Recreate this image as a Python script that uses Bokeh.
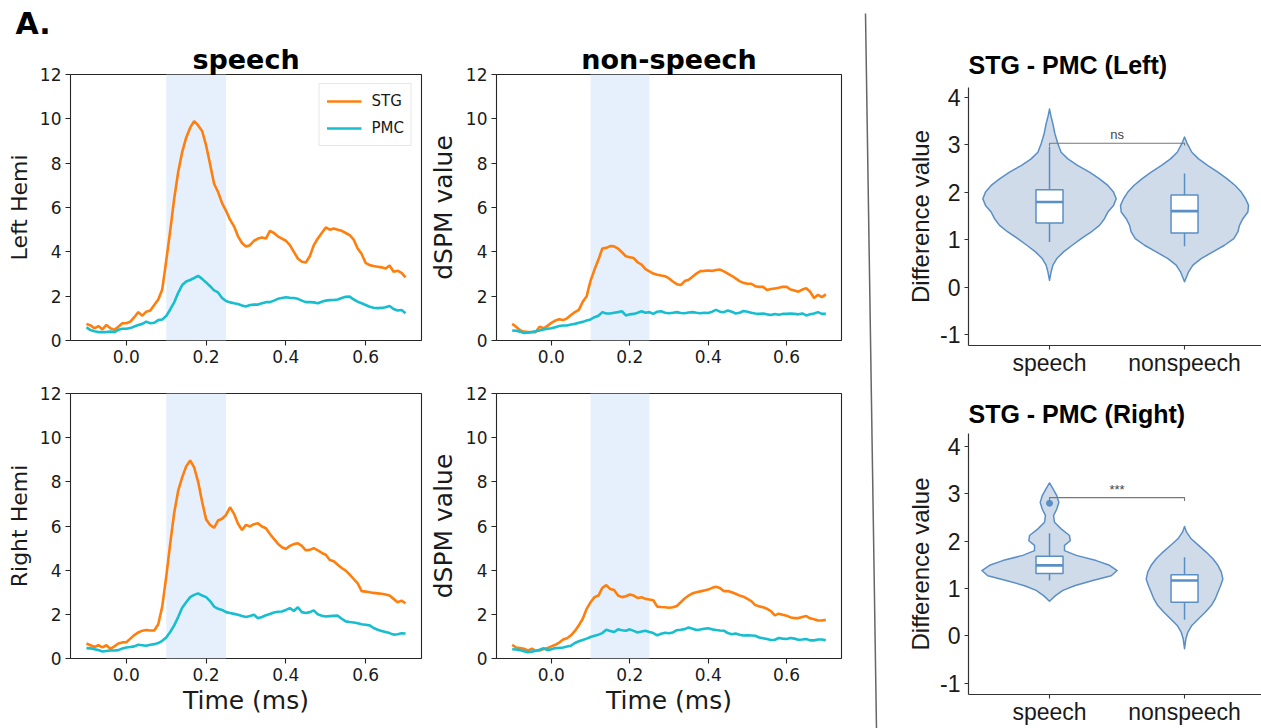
import numpy as np
from bokeh.plotting import figure
from bokeh.models import (BoxAnnotation, FixedTicker, PrintfTickFormatter, Range1d)
from bokeh.layouts import row, column
from bokeh.embed import file_html
from bokeh.resources import INLINE

# ---------------- data ----------------
time_s = np.round(np.arange(-0.10, 0.7001, 0.01), 2)   # 81 samples, -0.10 .. 0.70

speech_left_stg = [
    0.75, 0.68, 0.55, 0.65, 0.50, 0.70, 0.55, 0.48, 0.62, 0.78,
    0.78, 0.85, 1.05, 1.28, 1.12, 1.30, 1.35, 1.60, 1.85, 2.30,
    3.60, 4.95, 6.40, 7.60, 8.50, 9.15, 9.60, 9.90, 9.70, 9.45,
    8.80, 7.95, 7.07, 6.70, 6.20, 5.85, 5.45, 5.15, 4.70, 4.40,
    4.24, 4.30, 4.50, 4.60, 4.65, 4.60, 4.95, 4.85, 4.70, 4.60,
    4.50, 4.30, 4.00, 3.70, 3.55, 3.52, 3.80, 4.30, 4.60, 4.85,
    5.10, 5.00, 5.05, 5.00, 4.95, 4.85, 4.75, 4.55, 4.15, 3.90,
    3.50, 3.40, 3.36, 3.33, 3.30, 3.25, 3.38, 3.10, 3.15, 3.05,
    2.85]
speech_left_pmc = [
    0.60, 0.47, 0.42, 0.38, 0.38, 0.38, 0.40, 0.38, 0.48, 0.53,
    0.53, 0.56, 0.63, 0.70, 0.75, 0.85, 0.78, 0.80, 0.92, 0.95,
    1.10, 1.40, 1.72, 2.15, 2.50, 2.66, 2.73, 2.82, 2.92, 2.78,
    2.62, 2.45, 2.26, 2.17, 1.92, 1.78, 1.72, 1.68, 1.65, 1.58,
    1.53, 1.60, 1.62, 1.62, 1.68, 1.73, 1.73, 1.80, 1.88, 1.92,
    1.95, 1.93, 1.92, 1.88, 1.80, 1.73, 1.73, 1.72, 1.68, 1.75,
    1.80, 1.82, 1.83, 1.85, 1.92, 1.97, 1.98, 1.85, 1.75, 1.68,
    1.60, 1.52, 1.48, 1.46, 1.47, 1.50, 1.56, 1.42, 1.35, 1.38,
    1.23]
nonspeech_left_stg = [
    0.75, 0.62, 0.46, 0.40, 0.38, 0.38, 0.38, 0.62, 0.55, 0.66,
    0.80, 0.90, 0.96, 0.92, 1.00, 1.15, 1.28, 1.38, 1.75, 2.00,
    2.70, 3.20, 3.65, 4.15, 4.18, 4.26, 4.25, 4.15, 3.98, 3.80,
    3.76, 3.72, 3.53, 3.42, 3.22, 3.12, 3.02, 2.97, 2.93, 2.90,
    2.80, 2.66, 2.54, 2.50, 2.68, 2.74, 2.88, 3.02, 3.13, 3.14,
    3.16, 3.14, 3.18, 3.20, 3.12, 3.02, 2.92, 2.80, 2.68, 2.60,
    2.56, 2.56, 2.45, 2.42, 2.42, 2.28, 2.32, 2.35, 2.38, 2.42,
    2.42, 2.30, 2.26, 2.20, 2.30, 2.36, 2.20, 1.92, 2.06, 1.96,
    2.08]
nonspeech_left_pmc = [
    0.45, 0.44, 0.40, 0.34, 0.35, 0.38, 0.42, 0.45, 0.50, 0.53,
    0.55, 0.60, 0.65, 0.68, 0.68, 0.72, 0.75, 0.80, 0.84, 0.90,
    0.95, 1.05, 1.12, 1.28, 1.22, 1.22, 1.25, 1.28, 1.32, 1.13,
    1.18, 1.20, 1.25, 1.32, 1.25, 1.28, 1.20, 1.30, 1.32, 1.25,
    1.23, 1.25, 1.28, 1.24, 1.23, 1.26, 1.28, 1.25, 1.23, 1.25,
    1.24, 1.30, 1.38, 1.30, 1.28, 1.35, 1.30, 1.22, 1.25, 1.33,
    1.30, 1.25, 1.22, 1.20, 1.22, 1.18, 1.15, 1.20, 1.16, 1.20,
    1.20, 1.22, 1.20, 1.18, 1.22, 1.13, 1.18, 1.22, 1.28, 1.20,
    1.20]
speech_right_stg = [
    0.68, 0.60, 0.52, 0.60, 0.50, 0.60, 0.44, 0.55, 0.68, 0.73,
    0.74, 0.90, 1.06, 1.18, 1.26, 1.29, 1.27, 1.27, 1.55, 2.35,
    3.70, 5.20, 6.60, 7.60, 8.20, 8.70, 8.97, 8.65, 8.00, 7.10,
    6.30, 6.05, 5.92, 6.25, 6.33, 6.50, 6.85, 6.55, 6.10, 5.82,
    6.05, 5.98, 6.08, 6.12, 5.98, 5.90, 5.64, 5.42, 5.20, 5.04,
    4.96, 5.10, 5.18, 5.22, 5.10, 4.90, 4.92, 5.00, 4.90, 4.78,
    4.70, 4.46, 4.40, 4.25, 4.10, 3.98, 3.80, 3.60, 3.40, 3.05,
    3.03, 3.00, 2.97, 2.95, 2.93, 2.90, 2.85, 2.70, 2.55, 2.62,
    2.50]
speech_right_pmc = [
    0.47, 0.46, 0.42, 0.38, 0.32, 0.34, 0.36, 0.36, 0.38, 0.45,
    0.50, 0.52, 0.55, 0.62, 0.60, 0.58, 0.62, 0.65, 0.70, 0.80,
    0.95, 1.20, 1.50, 1.88, 2.30, 2.55, 2.78, 2.88, 2.95, 2.85,
    2.78, 2.60, 2.35, 2.25, 2.20, 2.10, 2.06, 2.02, 1.98, 1.92,
    1.88, 1.92, 1.98, 1.82, 1.88, 1.96, 2.02, 2.08, 2.12, 2.13,
    2.20, 2.28, 2.15, 2.32, 2.10, 2.06, 2.10, 2.18, 2.00, 1.94,
    1.90, 1.92, 1.93, 1.94, 1.80, 1.68, 1.65, 1.63, 1.60, 1.55,
    1.53, 1.50, 1.38, 1.30, 1.25, 1.20, 1.15, 1.08, 1.10, 1.14,
    1.13]
nonspeech_right_stg = [
    0.62, 0.50, 0.47, 0.44, 0.36, 0.45, 0.35, 0.36, 0.43, 0.47,
    0.55, 0.62, 0.72, 0.86, 0.92, 1.05, 1.25, 1.50, 1.80, 2.25,
    2.55, 2.78, 2.85, 3.20, 3.32, 3.15, 3.10, 2.85, 2.78, 2.82,
    2.90, 2.85, 2.74, 2.77, 2.70, 2.67, 2.64, 2.35, 2.33, 2.32,
    2.30, 2.32, 2.38, 2.55, 2.72, 2.85, 2.95, 3.00, 3.04, 3.08,
    3.12, 3.20, 3.25, 3.19, 3.05, 3.06, 3.00, 2.93, 2.85, 2.80,
    2.70, 2.60, 2.42, 2.36, 2.32, 2.25, 2.15, 1.95, 2.03, 1.98,
    1.94, 1.86, 1.83, 1.83, 1.88, 1.92, 1.82, 1.78, 1.72, 1.72,
    1.75]
nonspeech_right_pmc = [
    0.42, 0.41, 0.38, 0.33, 0.28, 0.31, 0.35, 0.40, 0.46, 0.38,
    0.42, 0.47, 0.48, 0.50, 0.54, 0.58, 0.70, 0.78, 0.84, 0.90,
    0.97, 1.03, 1.08, 1.15, 1.30, 1.25, 1.20, 1.32, 1.28, 1.26,
    1.32, 1.25, 1.18, 1.22, 1.26, 1.20, 1.15, 1.05, 1.12, 1.17,
    1.14, 1.18, 1.28, 1.30, 1.33, 1.40, 1.35, 1.29, 1.31, 1.35,
    1.37, 1.32, 1.29, 1.27, 1.26, 1.15, 1.10, 1.13, 1.08, 1.04,
    1.05, 1.04, 1.03, 0.95, 0.92, 0.88, 0.84, 0.85, 0.93, 0.90,
    0.88, 0.93, 0.90, 0.85, 0.86, 0.88, 0.82, 0.82, 0.86, 0.86,
    0.83]

window_start, window_end = 0.10, 0.25
x_ticks = [0.0, 0.2, 0.4, 0.6]
y_ticks = [0, 2, 4, 6, 8, 10, 12]

# violin panels
groups = ["speech", "nonspeech"]
group_pos = [1, 2]
diff_ticks = [-1, 0, 1, 2, 3, 4]

# violin outlines: value levels and half-widths (in category units)
vl_speech_y = [0.14, 0.32, 0.46, 0.60, 0.74, 0.88, 1.02, 1.16, 1.30, 1.44, 1.58, 1.72, 1.86,
               2.00, 2.14, 2.28, 2.42, 2.56, 2.70, 2.84, 3.02, 3.23, 3.44, 3.61, 3.75]
vl_speech_w = [0, .012, .025, .054, .104, .168, .235, .309, .370, .407, .432, .474, .494,
               .474, .432, .370, .296, .210, .136, .086, .062, .040, .025, .010, 0]
vl_non_y = [0.11, 0.32, 0.46, 0.60, 0.74, 0.88, 1.02, 1.16, 1.30, 1.44, 1.58, 1.72, 1.86,
            2.00, 2.14, 2.28, 2.42, 2.56, 2.70, 2.84, 3.02, 3.16]
vl_non_w = [0, .030, .062, .123, .210, .296, .365, .395, .407, .432, .469, .474, .452,
            .420, .375, .316, .247, .173, .104, .054, .020, 0]
vr_speech_y = [0.73, 0.85, 0.96, 1.06, 1.17, 1.27, 1.38, 1.49, 1.59, 1.70, 1.80, 1.91, 2.01,
               2.12, 2.26, 2.40, 2.54, 2.68, 2.82, 2.96, 3.11, 3.23]
vr_speech_w = [0, .044, .099, .185, .321, .457, .501, .444, .346, .198, .111, .111, .153,
               .148, .086, .037, .030, .054, .069, .054, .025, 0]
vr_non_y = [-0.27, -0.06, 0.08, 0.22, 0.36, 0.50, 0.64, 0.78, 0.92, 1.06, 1.20, 1.35, 1.49,
            1.63, 1.77, 1.91, 2.05, 2.19, 2.31]
vr_non_w = [0, .010, .025, .054, .104, .153, .198, .227, .247, .267, .284, .272, .247,
            .210, .160, .104, .049, .015, 0]

# box statistics [speech, nonspeech]
left_q1 = [1.35, 1.14]
left_med = [1.79, 1.60]
left_q3 = [2.05, 1.94]
left_wlo = [0.95, 0.86]
left_whi = [2.95, 2.39]
right_q1 = [1.32, 0.71]
right_med = [1.49, 1.17]
right_q3 = [1.68, 1.29]
right_wlo = [1.17, 0.34]
right_whi = [2.17, 1.66]
right_outlier_y = [2.80]
left_sig = ("ns", 3.03, [2.96, 2.98])
right_sig = ("***", 2.92, [2.86, 2.85])

# ---------------- styling ----------------
ORANGE = "#ff7f0e"
CYAN = "#17becf"
SHADE = "#e6f0fc"
MPL_FONT = "DejaVu Sans"
GG_FONT = "Liberation Sans"
V_FILL = "#d0dbe9"
V_LINE = "#5a8fc6"


def base_fig(width, height, xr, yr, mbl, mbr, mbt, mbb, **kw):
    p = figure(width=width, height=height, output_backend="svg", toolbar_location=None,
               x_range=xr, y_range=yr, min_border_left=mbl, min_border_right=mbr,
               min_border_top=mbt, min_border_bottom=mbb, **kw)
    p.grid.visible = False
    p.background_fill_color = "white"
    p.border_fill_color = "white"
    return p


def line_panel(width, height, mbl, mbr, mbt, mbb, title, ylabel, ylabel_size,
               stg, pmc, xlabel=None, legend=False):
    p = base_fig(width, height, Range1d(-0.14, 0.74), Range1d(0, 12), mbl, mbr, mbt, mbb)
    p.outline_line_color = "#262626"
    p.outline_line_width = 1.1
    p.add_layout(BoxAnnotation(left=window_start, right=window_end, fill_color=SHADE,
                               fill_alpha=1.0, line_color=None, level="underlay"))
    if legend:
        p.line(time_s, stg, line_color=ORANGE, line_width=2.6, legend_label="STG")
        p.line(time_s, pmc, line_color=CYAN, line_width=2.6, legend_label="PMC")
    else:
        p.line(time_s, stg, line_color=ORANGE, line_width=2.6)
        p.line(time_s, pmc, line_color=CYAN, line_width=2.6)
    if title:
        p.title.text = title
        p.title.align = "center"
        p.title.text_font = MPL_FONT
        p.title.text_font_size = "27px"
        p.title.text_font_style = "bold"
        p.title.text_color = "black"
        p.title.standoff = 0
    p.xaxis.ticker = FixedTicker(ticks=x_ticks)
    p.xaxis.formatter = PrintfTickFormatter(format="%.1f")
    p.yaxis.ticker = FixedTicker(ticks=y_ticks)
    for ax in (p.xaxis, p.yaxis):
        ax.axis_line_color = None
        ax.major_tick_line_color = "#262626"
        ax.major_tick_line_width = 1.1
        ax.major_tick_out = 5
        ax.major_tick_in = 0
        ax.minor_tick_line_color = None
        ax.major_label_text_font = MPL_FONT
        ax.major_label_text_font_size = "17px"
        ax.major_label_text_color = "#1a1a1a"
        ax.major_label_standoff = 4
        ax.axis_label_text_font = MPL_FONT
        ax.axis_label_text_font_style = "normal"
        ax.axis_label_text_color = "#1a1a1a"
    p.yaxis.axis_label = ylabel
    p.yaxis.axis_label_text_font_size = ylabel_size
    p.yaxis.axis_label_standoff = 5
    if xlabel:
        p.xaxis.axis_label = xlabel
        p.xaxis.axis_label_text_font_size = "25px"
        p.xaxis.axis_label_standoff = 2
    if legend:
        lg = p.legend[0]
        lg.location = "top_right"
        lg.margin = 9
        lg.padding = 7
        lg.spacing = 7
        lg.glyph_width = 35
        lg.glyph_height = 20
        lg.label_height = 20
        lg.label_standoff = 10
        lg.label_text_font = MPL_FONT
        lg.label_text_font_size = "15px"
        lg.label_text_color = "#1a1a1a"
        lg.border_line_color = "#d0d0d0"
        lg.border_line_width = 1
        lg.background_fill_color = "white"
        lg.background_fill_alpha = 0.9
    return p


# panel-letter strip above the line panels (pixel-like data units, y up)
strip = base_fig(855, 40, Range1d(0, 855), Range1d(0, 40), 0, 0, 0, 0, title=None)
strip.axis.visible = False
strip.outline_line_color = None
strip.text([15], [0], text=["A."], text_font_size="30px", text_font_style="bold",
           text_baseline="bottom", text_align="left", text_color="black",
           text_font={"value": MPL_FONT})

p1 = line_panel(425, 330, 70, 4, 34, 30, "speech", "Left Hemi", "22px",
                speech_left_stg, speech_left_pmc, legend=True)
p2 = line_panel(430, 330, 65, 14, 34, 30, "non-speech", "dSPM value", "25px",
                nonspeech_left_stg, nonspeech_left_pmc)
p3 = line_panel(425, 358, 70, 4, 23, 70, None, "Right Hemi", "22px",
                speech_right_stg, speech_right_pmc, xlabel="Time (ms)")
p4 = line_panel(430, 358, 65, 14, 23, 70, None, "dSPM value", "25px",
                nonspeech_right_stg, nonspeech_right_pmc, xlabel="Time (ms)")


def violin_panel(height, mbt, mbb, yr, title, title_standoff, profiles, q1, med, q3,
                 wlo, whi, sig, outlier=None):
    p = base_fig(376, height, Range1d(0.4, 2.57), Range1d(*yr), 83, 0, mbt, mbb)
    p.outline_line_color = None
    for pos, (vy, vw) in zip(group_pos, profiles):
        vy = np.asarray(vy, dtype=float)
        vw = np.asarray(vw, dtype=float)
        xs = np.concatenate([pos + vw, (pos - vw)[::-1]])
        ys = np.concatenate([vy, vy[::-1]])
        p.patch(xs, ys, fill_color=V_FILL, line_color=V_LINE, line_width=1.5,
                line_join="round")
    pos = np.asarray(group_pos, dtype=float)
    p.segment(pos, np.asarray(q3), pos, np.asarray(whi), line_color=V_LINE, line_width=1.5)
    p.segment(pos, np.asarray(q1), pos, np.asarray(wlo), line_color=V_LINE, line_width=1.5)
    p.quad(left=pos - 0.1, right=pos + 0.1, bottom=q1, top=q3, fill_color="white",
           line_color=V_LINE, line_width=1.5)
    p.segment(pos - 0.1, np.asarray(med), pos + 0.1, np.asarray(med), line_color=V_LINE,
              line_width=2.6)
    if outlier is not None:
        p.scatter([group_pos[0]] * len(outlier), outlier, size=6, color=V_LINE)
    txt, ytop, ends = sig
    p.line([group_pos[0], group_pos[0], group_pos[1], group_pos[1]],
           [ends[0], ytop, ytop, ends[1]], line_color="#777777", line_width=1.1)
    p.text([(group_pos[0] + group_pos[1]) / 2], [ytop], text=[txt], text_align="center",
           text_baseline="bottom", text_font_size="13px", text_color="#444444",
           y_offset=-1, text_font={"value": GG_FONT})
    p.title.text = title
    p.title.align = "left"
    p.title.text_font = GG_FONT
    p.title.text_font_size = "25px"
    p.title.text_font_style = "bold"
    p.title.text_color = "black"
    p.title.standoff = title_standoff
    p.xaxis.ticker = FixedTicker(ticks=group_pos)
    p.xaxis.major_label_overrides = {gp: g for gp, g in zip(group_pos, groups)}
    p.yaxis.ticker = FixedTicker(ticks=diff_ticks)
    p.yaxis.major_label_overrides = {t: str(t) for t in diff_ticks}
    for ax in (p.xaxis, p.yaxis):
        ax.axis_line_color = "#333333"
        ax.axis_line_width = 1.2
        ax.major_tick_line_color = "#333333"
        ax.major_tick_line_width = 1.1
        ax.major_tick_out = 4
        ax.major_tick_in = 0
        ax.minor_tick_line_color = None
        ax.major_label_text_font = GG_FONT
        ax.major_label_text_font_size = "23px"
        ax.major_label_text_color = "#1a1a1a"
        ax.axis_label_text_font = GG_FONT
        ax.axis_label_text_font_style = "normal"
        ax.axis_label_text_color = "#1a1a1a"
    p.xaxis.major_label_standoff = 0
    p.yaxis.major_label_standoff = 4
    p.yaxis.axis_label = "Difference value"
    p.yaxis.axis_label_text_font_size = "24px"
    p.yaxis.axis_label_standoff = 3
    return p


v1 = violin_panel(390, 87, 45, (-1.232, 4.204), "STG - PMC (Left)", 17,
                  [(vl_speech_y, vl_speech_w), (vl_non_y, vl_non_w)],
                  left_q1, left_med, left_q3, left_wlo, left_whi, left_sig)
v2 = violin_panel(338, 43, 34, (-1.238, 4.274), "STG - PMC (Right)", 11,
                  [(vr_speech_y, vr_speech_w), (vr_non_y, vr_non_w)],
                  right_q1, right_med, right_q3, right_wlo, right_whi, right_sig,
                  outlier=right_outlier_y)

# divider between panel groups
divider = base_fig(30, 728, Range1d(0, 30), Range1d(728, 0), 0, 0, 0, 0, title=None)
divider.axis.visible = False
divider.outline_line_color = None
divider.line([10, 21], [13, 728], line_color="#666666", line_width=1.5)

layout = row(column(strip, row(p1, p2), row(p3, p4)), divider, column(v1, v2))

with open("out.html", "w") as f:
    f.write(file_html(layout, INLINE))
